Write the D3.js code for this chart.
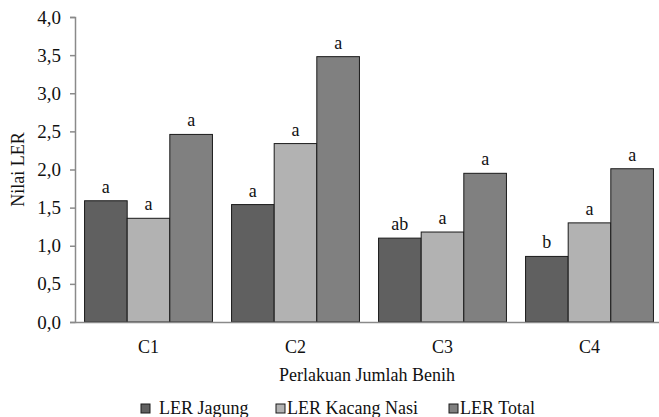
<!DOCTYPE html>
<html>
<head>
<meta charset="utf-8">
<script src="https://cdn.jsdelivr.net/npm/d3@7"></script>
<style>
  body { margin: 0; background: #fff; }
  text { font-family: "Liberation Serif", "Times New Roman", serif; fill: #111; }
</style>
</head>
<body>
<div class="chart"></div>
<script>
const categories = ['C1', 'C2', 'C3', 'C4'];
const seriesNames = ['LER Jagung', 'LER Kacang Nasi', 'LER Total'];
const lerJagung = [1.59, 1.54, 1.10, 0.86];
const lerKacang = [1.36, 2.34, 1.18, 1.30];
const lerTotal = [2.46, 3.48, 1.95, 2.01];
const letterJagung = ['a', 'a', 'ab', 'b'];
const letterKacang = ['a', 'a', 'a', 'a'];
const letterTotal = ['a', 'a', 'a', 'a'];
const yTicks = [0, 0.5, 1, 1.5, 2, 2.5, 3, 3.5, 4];

const colors = ['#606060', '#b2b2b2', '#808080'];

const width = 659, height = 417;
const margin = { left: 75, right: -4, top: 17, bottom: 95 };

const svg = d3.select('.chart')
    .append('svg')
    .attr('width', width)
    .attr('height', height);

const x = d3.scaleBand()
    .domain(categories)
    .range([margin.left, width - margin.right])
    .paddingInner(0)
    .paddingOuter(0);

const gap = x.bandwidth() * 0.065;
const xInner = d3.scaleBand()
    .domain(seriesNames)
    .range([gap, x.bandwidth() - gap]);

const y = d3.scaleLinear()
    .domain([0, 4])
    .range([height - margin.bottom, margin.top]);

const rows = categories.map((c, i) => ({
    cat: c,
    values: [
        { name: seriesNames[0], v: lerJagung[i], l: letterJagung[i], k: 0 },
        { name: seriesNames[1], v: lerKacang[i], l: letterKacang[i], k: 1 },
        { name: seriesNames[2], v: lerTotal[i], l: letterTotal[i], k: 2 }
    ]
}));

// y axis
const yAxis = svg.append('g')
    .attr('transform', `translate(${margin.left},0)`)
    .call(d3.axisLeft(y).tickValues(yTicks).tickSize(5).tickPadding(9)
        .tickFormat(d => d3.format('.1f')(d).replace('.', ',')));
yAxis.select('.domain').attr('stroke', '#8a8a8a').attr('stroke-width', 1.5);
yAxis.selectAll('.tick line').attr('stroke', '#8a8a8a').attr('stroke-width', 1.5);
yAxis.selectAll('.tick text').style('font-size', '19px').attr('fill', '#111')
    .style('font-family', '"Liberation Serif", serif');

const groups = svg.append('g')
    .selectAll('g')
    .data(rows)
    .enter().append('g')
    .attr('transform', d => `translate(${x(d.cat)},0)`);

groups.selectAll('rect')
    .data(d => d.values)
    .enter().append('rect')
    .attr('x', d => xInner(d.name))
    .attr('y', d => y(d.v))
    .attr('width', xInner.bandwidth())
    .attr('height', d => y(0) - y(d.v))
    .attr('fill', d => colors[d.k])
    .attr('stroke', '#1a1a1a')
    .attr('stroke-width', 1);

groups.selectAll('text.letter')
    .data(d => d.values)
    .enter().append('text')
    .attr('class', 'letter')
    .attr('x', d => xInner(d.name) + xInner.bandwidth() / 2)
    .attr('y', d => y(d.v) - 8)
    .attr('text-anchor', 'middle')
    .style('font-size', '18px')
    .text(d => d.l);

// x axis
const xAxis = svg.append('g')
    .attr('transform', `translate(0,${y(0)})`)
    .call(d3.axisBottom(x).tickSize(0).tickPadding(18));
xAxis.select('.domain').attr('stroke', '#8a8a8a').attr('stroke-width', 1.5);
xAxis.selectAll('.tick text').style('font-size', '18px').attr('fill', '#111')
    .style('font-family', '"Liberation Serif", serif');

svg.append('text')
    .attr('x', 367)
    .attr('y', 381)
    .attr('text-anchor', 'middle')
    .style('font-size', '18px')
    .text('Perlakuan Jumlah Benih');

svg.append('text')
    .attr('transform', `translate(24,${(y(0) + y(4)) / 2}) rotate(-90)`)
    .attr('text-anchor', 'middle')
    .style('font-size', '18px')
    .text('Nilai LER');

// legend
const legendX = [141, 276, 449];
const legend = svg.append('g')
    .selectAll('g')
    .data(seriesNames)
    .enter().append('g')
    .attr('transform', (d, i) => `translate(${legendX[i]},404)`);
legend.append('rect')
    .attr('width', 9).attr('height', 9)
    .attr('fill', (d, i) => colors[i])
    .attr('stroke', '#1a1a1a');
legend.append('text')
    .attr('x', (d, i) => i === 0 ? 18 : 11)
    .attr('y', 10)
    .style('font-size', '18px')
    .text(d => d);
</script>
</body>
</html>
